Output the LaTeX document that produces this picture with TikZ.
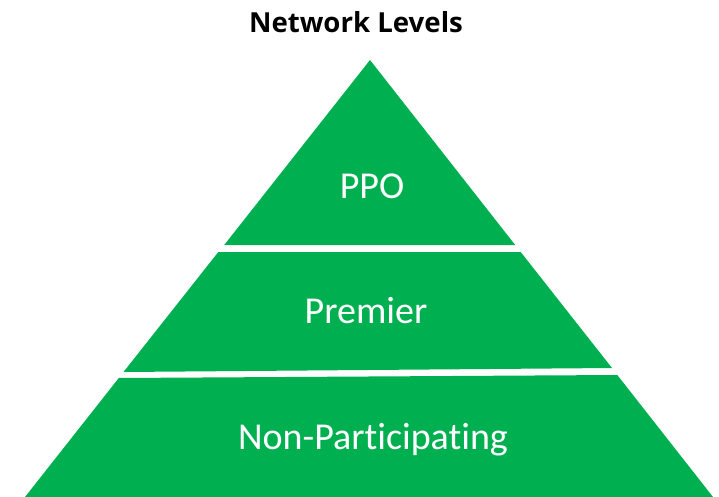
\documentclass[tikz,border=0pt]{standalone}
\usepackage{fontspec}
\setmainfont[Ligatures=NoCommon]{Carlito}
\newfontfamily\titlefont{Open Sans}
\definecolor{levelgreen}{RGB}{0,176,80}

\begin{document}
\begin{tikzpicture}[x=1pt,y=-1pt]
\tikzstyle{every node}+=[inner sep=0pt]
\tikzstyle{level}=[fill=levelgreen]
\tikzstyle{levellabel}=[text=white,font=\fontsize{38}{44}\selectfont]
\useasboundingbox (0,0) rectangle (719,497);
% title
\node [font=\titlefont\fontsize{27.6}{32}\selectfont\bfseries] (title) at (356,22) {Network Levels};
% three bands of the pyramid
\fill [level] (370,60) -- (515.2,245) -- (224.2,245) -- cycle;
\fill [level] (218.3,252) -- (520.7,252) -- (612,368) -- (123.5,372) -- cycle;
\fill [level] (118.8,378) -- (617.3,375) -- (713,497) -- (25,497) -- cycle;
\node [levellabel] (ppo) at (372,186) {PPO};
\node [levellabel] (premier) at (366,311) {Premier};
\node [levellabel] (nonpart) at (373,440) {Non-Participating};
\end{tikzpicture}
\end{document}
